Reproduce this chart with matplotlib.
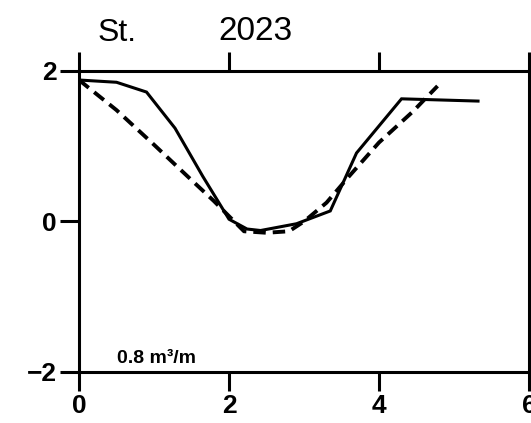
import matplotlib.pyplot as plt

# Data
solid_x = [0, 0.5, 0.9, 1.28, 1.65, 2.0, 2.24, 2.42, 2.9, 3.35, 3.7, 4.3, 5.32]
solid_y = [1.88, 1.85, 1.72, 1.24, 0.60, 0.03, -0.10, -0.12, -0.03, 0.14, 0.91, 1.63, 1.60]

dashed_x = [0, 0.5, 1.0, 1.5, 1.8, 2.2, 2.5, 2.8, 3.0, 3.3, 3.6, 4.0, 4.45, 4.78]
dashed_y = [1.88, 1.48, 1.02, 0.55, 0.27, -0.13, -0.15, -0.13, 0.0, 0.25, 0.60, 1.05, 1.46, 1.80]

x_ticks = [0, 2, 4, 6]
y_ticks = [-2, 0, 2]
y_tick_labels = ['\u22122', '0', '2']

plt.rcParams['font.family'] = ['Liberation Sans', 'DejaVu Sans']

fig = plt.figure(figsize=(5.31, 4.23), dpi=100)
ax = fig.add_axes([0.1488, 0.1206, 0.8475, 0.7116])

ax.plot(solid_x, solid_y, color='black', linewidth=2.2, solid_joinstyle='miter')
ax.plot(dashed_x, dashed_y, color='black', linewidth=2.8, dashes=(3.2, 1.8))

ax.set_xlim(0, 6)
ax.set_ylim(-2, 2)

for side in ['left', 'right', 'top', 'bottom']:
    ax.spines[side].set_linewidth(2.2)

ax.set_xticks(x_ticks)
ax.set_yticks(y_ticks)
ax.set_yticklabels(y_tick_labels)
ax.tick_params(axis='both', direction='out', length=14, width=2.2,
               labelsize=19, pad=2)
ax.tick_params(axis='x', top=True, labeltop=False)
for lbl in ax.get_xticklabels() + ax.get_yticklabels():
    lbl.set_fontweight('bold')

# Header texts
fig.text(117 / 531, 1 - 33 / 423, 'St.', ha='center', va='center', fontsize=23)
fig.text(255 / 531, 1 - 31 / 423, '2023', ha='center', va='center', fontsize=24)

# Scale annotation
ax.text(0.5, -1.94, '0.8 m\u00b3/m', ha='left', va='bottom', fontsize=14,
        fontweight='bold')

fig.savefig('out.png', dpi=100)
